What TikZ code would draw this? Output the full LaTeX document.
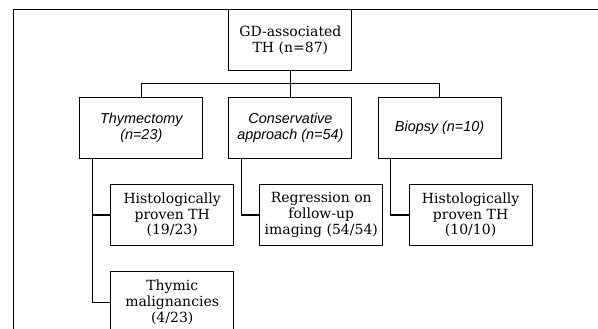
\documentclass[tikz,border=0pt]{standalone}
\usepackage{fontspec}
\setmainfont{DejaVu Serif}
\newfontfamily\itfont{Liberation Sans Italic}
\usepackage{tikz}
\usetikzlibrary{positioning}

\begin{document}
\begin{tikzpicture}[
    x=1pt, y=-1pt,
    flowbox/.style={draw, line width=1.1pt, minimum width=123pt, minimum height=61pt,
                    inner sep=0pt, align=center, font=\fontsize{14}{15.7}\selectfont},
    itbox/.style={flowbox, font=\fontsize{14.4}{15.7}\itfont},
    link/.style={draw, line width=1.1pt},
]
    \useasboundingbox (0,0) rectangle (598,329);
    % outer frame, cut off at right and bottom
    \draw[line width=1.1pt] (13.7,340) -- (13.7,9.3) -- (610,9.3);

    \node[flowbox] (gd) at (290.4,40.2) {GD-associated\\TH (n=87)};

    \node[itbox] (thy)  at (141.3,127.7) {Thymectomy\\(n=23)};
    \node[itbox] (cons) at (290.4,127.7) {Conservative\\approach (n=54)};
    \node[itbox] (bio)  at (439.6,127.7) {Biopsy (n=10)};

    \node[flowbox] (histo)  at (172.2,215) {Histologically\\proven TH\\(19/23)};
    \node[flowbox] (regr)   at (321.3,215) {Regression on\\follow-up\\imaging (54/54)};
    \node[flowbox] (histob) at (470.6,215) {Histologically\\proven TH\\(10/10)};
    \node[flowbox] (malig)  at (172.2,302.4) {Thymic\\malignancies\\(4/23)};

    % branches
    \draw[link] (gd.south) -- (cons.north);
    \draw[link] (thy.north) -- ++(0,-13) -| (bio.north);
    \draw[link] ([xshift=13pt]thy.south west) |- (histo.west);
    \draw[link] ([xshift=13pt]thy.south west) |- (malig.west);
    \draw[link] ([xshift=13pt]cons.south west) |- (regr.west);
    \draw[link] ([xshift=13pt]bio.south west) |- (histob.west);
\end{tikzpicture}
\end{document}
